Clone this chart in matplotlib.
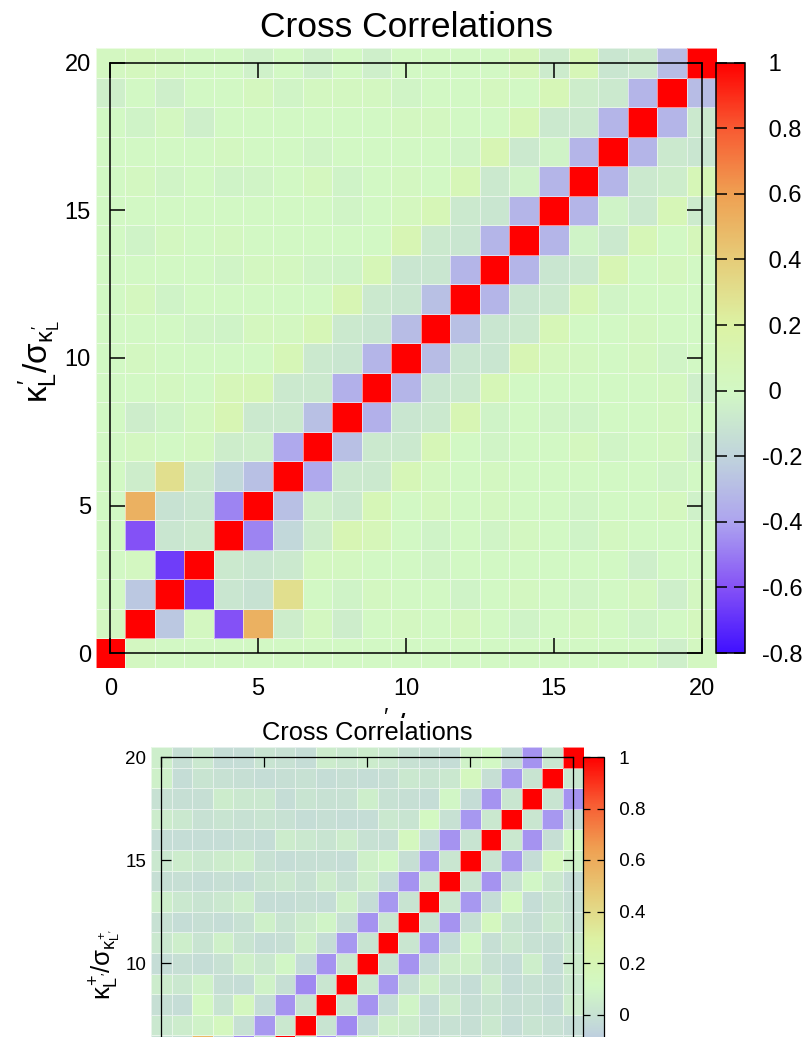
import numpy as np
import matplotlib
matplotlib.use("Agg")
import matplotlib.pyplot as plt
from matplotlib.colors import LinearSegmentedColormap
from matplotlib.patches import Rectangle

plt.rcParams['font.family'] = ['Liberation Sans', 'DejaVu Sans']
plt.rcParams['mathtext.fontset'] = 'custom'
plt.rcParams['mathtext.rm'] = 'Liberation Sans'
plt.rcParams['mathtext.it'] = 'Liberation Sans'
plt.rcParams['mathtext.sf'] = 'Liberation Sans'
plt.rcParams['axes.unicode_minus'] = False

# ---------------- data ----------------
n_bins = 21
axis_ticks = [0, 5, 10, 15, 20]
title = "Cross Correlations"
top_label = r"$\kappa_L^{\prime}/\sigma_{\kappa_L^{\prime}}$"
bot_label = r"$\kappa^{+}_{L^{\prime}}/\sigma_{\kappa^{+}_{L^{\prime}}}$"

top_vmin, top_vmax = -0.8, 1.0
top_cb_ticks = [1.0, 0.8, 0.6, 0.4, 0.2, 0.0, -0.2, -0.4, -0.6, -0.8]
top_cb_labels = [" 1", " 0.8", " 0.6", " 0.4", " 0.2", " 0", "-0.2", "-0.4", "-0.6", "-0.8"]
bot_vmin, bot_vmax = -0.6, 1.0
bot_cb_ticks = [1.0, 0.8, 0.6, 0.4, 0.2, 0.0, -0.2, -0.4, -0.6]
bot_cb_labels = [" 1", " 0.8", " 0.6", " 0.4", " 0.2", " 0", "-0.2", "-0.4", "-0.6"]

# palette (fraction of colour range -> colour)
palette_pos = [0.0, 0.111, 0.222, 0.333, 0.444, 0.556, 0.667, 0.778, 0.889, 1.0]
palette_col = ["#4010ff", "#8552f6", "#ada4ef", "#c0d4dc", "#d2f8c4",
               "#dcf2a4", "#e6cc78", "#efa052", "#f85a32", "#ff0000"]

# top matrix: k-th off-diagonal values M[i, i+k]
top_off1 = [0.02, -0.25, -0.66, -0.08, -0.48, -0.28, -0.38, -0.28, -0.35, -0.33,
            -0.30, -0.28, -0.33, -0.33, -0.33, -0.33, -0.33, -0.33, -0.33, -0.30]
top_off2 = [0.0, 0.02, -0.10, -0.10, -0.18, -0.05, -0.08, -0.08, -0.10, -0.10,
            -0.10, -0.10, -0.10, -0.10, -0.03, -0.03, -0.08, -0.08, -0.08]
top_off3 = [0.0, -0.60, -0.12, -0.08, -0.06, -0.08, -0.08, -0.08, -0.08, -0.08,
            -0.10, -0.08, -0.08, -0.08, -0.08, -0.08, -0.06, -0.10]
top_off4 = [0.0, 0.52, 0.30, 0.02, 0.10, 0.08, 0.08, 0.08, 0.10, 0.08,
            0.10, 0.08, 0.08, 0.10, 0.08, 0.08, 0.08]
top_off5 = [0.0, -0.06, 0.0, 0.02, 0.07, 0.0, 0.02, 0.0, -0.03, 0.0, 0.03, 0.0, -0.02, 0.0, 0.0, -0.07]
top_off6 = [0.0, 0.02, -0.03, 0.0, 0.0, 0.03, 0.0, -0.02, 0.0, 0.0, 0.02, 0.0, 0.0, 0.03, 0.06]
top_off7 = [0.0, -0.06, 0.02, 0.0, -0.03, 0.0, 0.02, 0.0, -0.02, 0.0, 0.0, 0.02, 0.0, 0.0]
top_off8 = [0.0, 0.0, 0.0, -0.02, 0.0, 0.02, 0.0, 0.0, -0.03, 0.0, 0.02, 0.0, 0.0]
top_off9 = [0.0, 0.02, 0.0, 0.0, -0.02, 0.0, 0.0, 0.03, 0.0, 0.0, -0.02, 0.0]
top_off10 = [0.0, 0.0, -0.03, 0.0, 0.02, 0.0, 0.0, -0.02, 0.0, 0.02, 0.0]
top_off11 = [0.0, 0.03, 0.0, 0.0, 0.0, -0.02, 0.0, 0.0, 0.02, -0.05]
top_off12 = [0.0, 0.0, 0.02, 0.0, -0.03, 0.0, 0.0, 0.02, 0.0]
top_off13 = [0.0, -0.03, 0.0, 0.0, 0.02, 0.0, -0.02, -0.05]
top_off14 = [0.0, 0.0, -0.02, 0.0, 0.0, 0.03, 0.0]
top_off15 = [0.0, 0.02, 0.0, -0.05, 0.0, -0.04]
top_off16 = [0.0, 0.0, 0.02, 0.0, 0.0]
top_off17 = [0.0, -0.03, -0.05, 0.0]
top_off18 = [0.0, 0.0, 0.02]
top_off19 = [-0.05, 0.04]
top_off20 = [0.02]

# bottom matrix
bot_off1 = [0.04, 0.02, 0.03, 0.01, 0.03, 0.02, 0.03, 0.01, 0.02, 0.03,
            0.01, 0.02, 0.01, 0.03, 0.02, 0.01, 0.03, 0.02, 0.01, 0.02]
bot_off2 = [-0.25, -0.27, -0.30, -0.28, -0.30, -0.27, -0.28, -0.30, -0.28, -0.27,
            -0.28, -0.27, -0.28, -0.27, -0.28, -0.27, -0.28, -0.27, -0.28]
bot_off3 = [-0.02, 0.02, -0.01, -0.03, 0.0, -0.02, -0.01, -0.03, -0.02, -0.01,
            -0.02, -0.03, -0.01, -0.02, 0.0, -0.02, -0.01, -0.02]
bot_off4 = [0.10, 0.06, 0.55, 0.14, 0.14, 0.08, 0.10, 0.07, 0.09, 0.07,
            0.06, 0.10, 0.14, 0.12, 0.10, 0.14, 0.11]
bot_off5 = [0.02, -0.01, 0.08, 0.01, -0.02, 0.03, -0.01, 0.05, -0.02, 0.0, 0.07, -0.01, 0.01, -0.02, 0.03, 0.08]
bot_off6 = [0.0, 0.05, 0.12, -0.01, 0.07, -0.02, 0.01, -0.01, 0.05, -0.02, 0.0, 0.03, -0.01, 0.01, -0.02]
bot_off7 = [0.03, -0.02, 0.08, 0.0, 0.01, 0.07, -0.02, 0.0, -0.01, 0.05, -0.02, 0.0, 0.03, -0.01]
bot_off8 = [-0.01, 0.03, -0.02, 0.07, 0.0, -0.02, 0.03, -0.01, 0.01, -0.02, 0.06, -0.01, 0.0]
bot_off9 = [0.05, -0.01, 0.01, -0.02, 0.06, 0.01, -0.02, 0.03, -0.01, 0.0, -0.02, 0.03]
bot_off10 = [-0.02, 0.06, -0.01, 0.03, -0.02, 0.0, 0.05, -0.02, 0.0, -0.01, 0.05]
bot_off11 = [0.03, -0.02, 0.01, -0.01, 0.06, -0.02, 0.0, 0.01, -0.02, 0.03]
bot_off12 = [0.0, 0.03, -0.02, 0.05, -0.01, 0.01, -0.02, 0.0, 0.05]
bot_off13 = [0.06, -0.01, 0.03, -0.02, 0.0, 0.03, -0.01, -0.02]
bot_off14 = [-0.01, 0.05, -0.02, 0.01, 0.03, -0.02, 0.0]
bot_off15 = [0.03, -0.02, 0.0, 0.05, -0.01, 0.01]
bot_off16 = [-0.02, 0.03, -0.01, 0.0, -0.02]
bot_off17 = [0.05, -0.01, 0.01, -0.02]
bot_off18 = [0.0, -0.02, 0.03]
bot_off19 = [0.07, -0.01]
bot_off20 = [0.06]

top_offdiagonals = [top_off1, top_off2, top_off3, top_off4, top_off5, top_off6, top_off7,
                    top_off8, top_off9, top_off10, top_off11, top_off12, top_off13,
                    top_off14, top_off15, top_off16, top_off17, top_off18, top_off19, top_off20]
bot_offdiagonals = [bot_off1, bot_off2, bot_off3, bot_off4, bot_off5, bot_off6, bot_off7,
                    bot_off8, bot_off9, bot_off10, bot_off11, bot_off12, bot_off13,
                    bot_off14, bot_off15, bot_off16, bot_off17, bot_off18, bot_off19, bot_off20]


def build_matrix(diagonals):
    m = np.eye(n_bins)
    for k, vals in enumerate(diagonals, start=1):
        for i, v in enumerate(vals):
            m[i, i + k] = v
            m[i + k, i] = v
    return m


cmap = LinearSegmentedColormap.from_list("gp", list(zip(palette_pos, palette_col)), N=512)

W, H = 806, 1037
fig = plt.figure(figsize=(W / 100, H / 100), dpi=100)


def fr(x0, y0, x1, y1):
    return [x0 / W, 1 - y1 / H, (x1 - x0) / W, (y1 - y0) / H]


def draw_panel(box, cbox, mat, vmin, vmax, cticks, clabels, tsize, tlen, lw, pad_l, pad_b, cpad, clen, zo):
    ax = fig.add_axes(box)
    ax.set_zorder(zo)
    edges = np.arange(n_bins + 1) - 0.5
    mesh = ax.pcolormesh(edges, edges, mat, cmap=cmap, vmin=vmin, vmax=vmax,
                         edgecolors=(1, 1, 1, 0.55), linewidth=0.6)
    ax.set_xlim(-0.5, n_bins - 0.5)
    ax.set_ylim(-0.5, n_bins - 0.5)
    ax.axis('off')
    fax = ax.inset_axes([0.5 / n_bins, 0.5 / n_bins, (n_bins - 1) / n_bins, (n_bins - 1) / n_bins])
    fax.set_facecolor('none')
    fax.set_xlim(0, n_bins - 1)
    fax.set_ylim(0, n_bins - 1)
    fax.set_xticks(axis_ticks)
    fax.set_yticks(axis_ticks)
    for s in fax.spines.values():
        s.set_linewidth(lw)
    fax.tick_params(direction='in', top=True, right=True, length=tlen, width=lw,
                    labelsize=tsize)
    fax.tick_params(axis='y', pad=pad_l)
    fax.tick_params(axis='x', pad=pad_b)
    cax = fig.add_axes(cbox)
    cax.set_zorder(zo)
    cb = fig.colorbar(mesh, cax=cax)
    cb.set_ticks(cticks)
    cb.set_ticklabels(clabels)
    cb.outline.set_linewidth(lw)
    cax.tick_params(direction='in', left=True, right=True, length=clen, width=lw,
                    labelsize=tsize, pad=cpad, labelleft=False, labelright=True)
    return ax


top_mat = build_matrix(top_offdiagonals)
bot_mat = build_matrix(bot_offdiagonals)

# top panel
draw_panel(fr(95.5, 48, 716.5, 668), fr(716, 62.7, 745, 653), top_mat, top_vmin, top_vmax,
           top_cb_ticks, top_cb_labels, 17, 11, 1.1, 14, 18, 12, 8, 0)
fig.text(406 / W, 1 - 37 / H, title, ha='center', va='baseline', fontsize=25.5)
fig.text(40 / W, 1 - 362 / H, top_label, rotation=90, ha='center', va='center', fontsize=24)
fig.text(406 / W, 1 - 707 / H, top_label, ha='center', va='top', fontsize=24, zorder=0.2)

# white cover (bottom image overlays top)
fig.add_artist(Rectangle((0, 0), 1, 1 - 718 / H, transform=fig.transFigure,
                         facecolor='white', edgecolor='none', zorder=0.5))

# bottom panel
draw_panel(fr(151, 747, 583.6, 1179.6), fr(583, 757, 604, 1169), bot_mat, bot_vmin, bot_vmax,
           bot_cb_ticks, bot_cb_labels, 13.5, 7, 0.9, 11, 12, 7.2, 5, 1)
fig.text(367 / W, 1 - 740 / H, title, ha='center', va='baseline', fontsize=18.3, zorder=2)
fig.text(105 / W, 1 - 964 / H, bot_label, rotation=90, ha='center', va='center', fontsize=18.5, zorder=2)

fig.savefig("out.png", dpi=100)
